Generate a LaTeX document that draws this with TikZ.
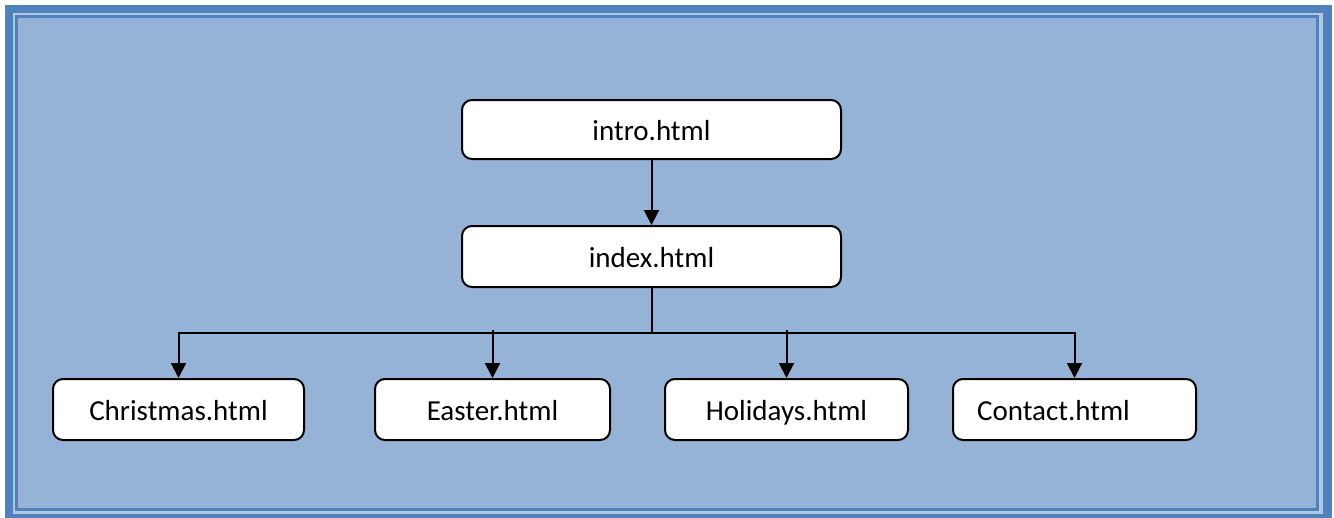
\documentclass[tikz,border=0pt]{standalone}
\usepackage{fontspec}
\setmainfont{Carlito}
\usetikzlibrary{arrows.meta}
\definecolor{frameblue}{HTML}{4F81BD}
\definecolor{lightline}{HTML}{B3C8E3}
\definecolor{fillblue}{HTML}{95B3D7}
\tikzset{
  pagebox/.style={draw=black, fill=white, rounded corners=10pt, line width=2pt,
    inner sep=0pt, text height=25pt, text depth=4pt,
    font=\fontsize{29}{34}\selectfont},
  link/.style={draw=black, line width=2pt},
  arrowlink/.style={link, -{Triangle[width=15pt,length=15pt]}},
}
\begin{document}
\begin{tikzpicture}[x=1pt,y=-1pt]
\useasboundingbox (0,0) rectangle (1334,517);
% frame
\fill[white] (0,0) rectangle (1334,517);
\fill[frameblue] (5,5) rectangle (1332,520);
\fill[lightline] (13,13) rectangle (1323,514);
\fill[frameblue] (15,15) rectangle (1319,511);
\fill[fillblue] (18,18) rectangle (1316,508);
% nodes
\node[pagebox, minimum width=379pt, minimum height=59pt] (intro) at (651.5,129.5) {intro.html};
\node[pagebox, minimum width=379pt, minimum height=61pt] (index) at (651.5,256.5) {index.html};
\node[pagebox, minimum width=251pt, minimum height=61pt] (christmas) at (178.5,409.5) {Christmas.html};
\node[pagebox, minimum width=235pt, minimum height=61pt] (easter) at (492.5,409.5) {Easter.html};
\node[pagebox, minimum width=243pt, minimum height=61pt] (holidays) at (786.5,409.5) {Holidays.html};
\node[pagebox, minimum width=243pt, minimum height=61pt] (contact) at (1074.5,409.5) {Contact.html\hspace*{42pt}};
% connectors
\coordinate (j) at (651.5,333);
\coordinate (jt) at (651.5,330);
\draw[arrowlink] (intro.south) -- (index.north);
\draw[link] (index.south) -- (j);
\draw[arrowlink, line join=miter] (j) -| (christmas.north);
\draw[arrowlink, line join=miter] (j) -| (contact.north);
\draw[arrowlink] (jt -| easter.north) -- (easter.north);
\draw[arrowlink] (jt -| holidays.north) -- (holidays.north);
\end{tikzpicture}
\end{document}
